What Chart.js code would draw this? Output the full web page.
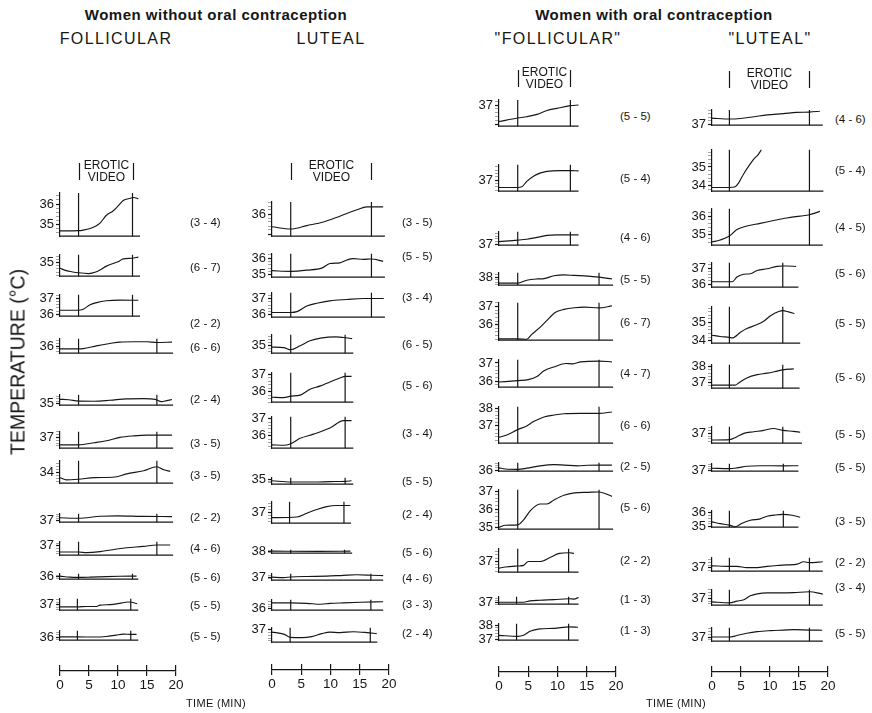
<!DOCTYPE html>
<html><head><meta charset="utf-8">
<script src="https://cdn.jsdelivr.net/npm/chart.js@4/dist/chart.umd.min.js"></script>
<style>
html,body{margin:0;padding:0;background:#fff;}
#wrap{position:relative;width:872px;height:713px;overflow:hidden;background:#fff;font-family:"Liberation Sans",Arial,sans-serif;color:#161616;-webkit-font-smoothing:antialiased;}
#wrap canvas{position:absolute;}
.t{position:absolute;white-space:nowrap;transform:translate(-50%,-50%);}
.lab{position:absolute;white-space:nowrap;font-size:11.5px;line-height:14px;}
</style></head><body><div id="wrap"></div>
<script>
// ================= DATA =================
const timeTickLabels = [0, 5, 10, 15, 20];

// ---- Women without oral contraception : FOLLICULAR ----
const noOcFollicularLabels = ['(3 - 4)','(6 - 7)','(2 - 2)','(6 - 6)','(2 - 4)','(3 - 5)','(3 - 5)','(2 - 2)','(4 - 6)','(5 - 6)','(5 - 5)','(5 - 5)'];
const noOcFollicularRanges = [[34.42,36.54],[34.13,35.51],[35.87,37.24],[35.49,36.55],[34.86,35.75],[36.23,37.4],[33.32,34.74],[36.86,37.67],[36.29,37.31],[35.71,36.38],[36.55,37.47],[35.71,36.57]];
const noOcFollicularTicks = [[35,36],[35],[36,37],[36],[35],[37],[34],[37],[37],[36],[37],[36]];
const noOcFollicularVideo = [[3.2,12.5],[3.2,12.5],[3.2,12.5],[3.2,16.7],[3.2,16.7],[3.2,16.7],[3.2,16.7],[3.2,16.7],[3.2,16.7],[3.2,12.5],[3.0,12.2],[3.0,12.2]];
const noOcFollicularEnd = [13.8,13.8,13.8,19.5,19.5,19.5,19.5,19.5,19.5,13.5,13.5,13.5];
const noOcFollicularTraces = [
 [[0,34.68],[3.2,34.69],[4,34.72],[5.2,34.8],[6.2,34.92],[6.9,35.06],[8,35.45],[9.2,35.67],[10.1,35.93],[10.9,36.17],[12.1,36.28],[12.7,36.32],[13.5,36.25]],
 [[0,34.64],[1.1,34.49],[2,34.42],[3.2,34.35],[4.9,34.3],[6.3,34.42],[7,34.55],[8,34.78],[9.5,35.0],[10.2,35.1],[10.9,35.25],[12.4,35.29],[13.5,35.36]],
 [[0,36.25],[3.2,36.25],[4,36.32],[5.2,36.6],[6.3,36.74],[8,36.86],[10.3,36.9],[13.5,36.89]],
 [[0,35.81],[3.2,35.81],[4,35.83],[6.3,36.03],[8.6,36.2],[10.3,36.31],[12.7,36.33],[15,36.33],[16.7,36.28],[19.3,36.31]],
 [[0,35.36],[1.5,35.33],[3.2,35.21],[5.9,35.2],[8.6,35.28],[11.5,35.4],[14.4,35.42],[16.4,35.36],[17.5,35.16],[18.4,35.25],[19.3,35.35]],
 [[0,36.47],[3.2,36.47],[5.9,36.62],[8,36.76],[10.3,37.0],[12.7,37.11],[15,37.16],[19.3,37.16]],
 [[0,33.67],[1.1,33.53],[3.2,33.57],[5.9,33.67],[9.5,33.71],[11.5,33.91],[14.4,34.11],[16.7,34.36],[17.9,34.17],[19,34.07]],
 [[0,37.29],[3.2,37.24],[6.9,37.43],[9.9,37.47],[14.1,37.42],[19.3,37.4]],
 [[0,36.53],[3.2,36.53],[4.6,36.49],[6.9,36.56],[9.5,36.74],[11.5,36.86],[14.4,36.96],[16.7,37.07],[19,37.07]],
 [[0,36.1],[1.7,35.96],[3.2,35.93],[5.2,35.96],[8,36.03],[10.3,36.07],[13.2,36.1]],
 [[0,36.82],[3,36.82],[4.6,36.85],[6.3,36.85],[6.9,36.96],[8.6,37.0],[10.3,37.1],[11.7,37.21],[12.3,37.19],[13.3,37.07]],
 [[0,36.01],[3,36.01],[5.9,36.0],[8,36.05],[9.7,36.18],[10.9,36.26],[12.3,36.24],[13.2,36.24]]
];

// ---- Women without oral contraception : LUTEAL ----
const noOcLutealLabels = ['(3 - 5)','(5 - 5)','(3 - 4)','(6 - 5)','(5 - 6)','(3 - 4)','(5 - 5)','(2 - 4)','(5 - 6)','(4 - 6)','(3 - 3)','(2 - 4)'];
const noOcLutealRanges = [[34.89,36.6],[34.86,36.26],[35.86,37.35],[34.5,35.74],[35.39,37.1],[35.29,37.1],[34.43,35.17],[36.29,37.68],[37.65,38.26],[36.65,37.37],[35.89,36.78],[36.11,37.14]];
const noOcLutealTicks = [[36],[35,36],[36,37],[35],[36,37],[36,37],[35],[37],[38],[37],[36],[37]];
const noOcLutealVideo = [[3.2,17.0],[3.2,17.0],[3.2,17.0],[3.2,12.5],[3.2,12.5],[3.2,12.5],[3.2,12.5],[3.0,12.3],[3.2,12.4],[3.2,16.9],[3.2,16.9],[3.1,16.8]];
const noOcLutealEnd = [19.3,19.3,19.3,13.9,13.9,13.9,13.9,13.5,13.7,19.0,19.0,18.0];
const noOcLutealTraces = [
 [[0,35.36],[3.2,35.25],[5.95,35.42],[8.8,35.6],[11.6,35.89],[14.5,36.21],[16.2,36.36],[17,36.36],[19,36.36]],
 [[0,35.25],[3.2,35.21],[5.95,35.28],[8.6,35.42],[9.9,35.68],[11.6,35.72],[12.8,35.89],[13.9,35.97],[15.6,35.93],[17,35.95],[19,35.81]],
 [[0,36.15],[3.2,36.15],[4.25,36.2],[5.95,36.54],[7.65,36.71],[9.9,36.86],[12.8,36.94],[15.6,37.0],[19.1,37.0]],
 [[0,34.91],[2,34.88],[3.2,34.73],[4.8,35.0],[6.5,35.34],[8.3,35.52],[11,35.6],[12.2,35.56],[13.7,35.48]],
 [[0,35.68],[2,35.66],[3.2,35.74],[4.8,35.8],[6.5,36.14],[8.3,36.34],[9.9,36.57],[11.6,36.8],[12.5,36.89],[13.6,36.89]],
 [[0,35.48],[2,35.46],[3.2,35.55],[4.8,35.86],[7.1,36.1],[9.9,36.45],[12.2,36.88],[13.6,36.88]],
 [[0,34.83],[3.2,34.69],[7.1,34.68],[9.9,34.73],[12.5,34.76],[13.6,34.83]],
 [[0,36.65],[4.25,36.69],[5.95,36.94],[7.65,37.18],[9.35,37.37],[11,37.44],[13.4,37.44]],
 [[0,38.01],[8,37.99],[13.4,38.01]],
 [[0,37.0],[2,36.94],[3.2,37.01],[5.95,37.07],[9.35,37.11],[12.2,37.2],[14.5,37.26],[17,37.21],[19,37.16]],
 [[0,36.52],[3.2,36.52],[5.95,36.48],[8.3,36.4],[9.9,36.47],[12.2,36.52],[15.1,36.57],[19,36.61]],
 [[0,36.83],[2,36.69],[3.1,36.46],[5.1,36.44],[6.8,36.51],[8.5,36.72],[9.9,36.83],[11.6,36.8],[13.9,36.86],[16.2,36.8],[17.9,36.72]]
];

// ---- Women with oral contraception : "FOLLICULAR" ----
const ocFollicularLabels = ['(5 - 5)','(5 - 4)','(4 - 6)','(5 - 5)','(6 - 7)','(4 - 7)','(6 - 6)','(2 - 5)','(5 - 6)','(2 - 2)','(1 - 3)','(1 - 3)'];
const ocFollicularRanges = [[35.91,37.26],[36.34,37.92],[36.91,37.94],[37.36,38.35],[35.15,37.2],[35.68,37.17],[36.03,38.07],[35.9,36.68],[34.9,37.07],[36.34,37.78],[36.79,37.57],[36.92,38.1]];
const ocFollicularTicks = [[37],[37],[37],[38],[36,37],[36,37],[37,38],[36],[35,36,37],[37],[37],[37,38]];
const ocFollicularVideo = [[3.2,12.2],[3.2,12.2],[3.2,12.2],[3.2,17.1],[3.2,17.1],[3.2,17.1],[3.2,17.1],[3.2,17.1],[3.2,17.1],[3.2,11.9],[3.0,11.9],[3.0,11.9]];
const ocFollicularEnd = [13.6,13.6,13.6,19.5,19.5,19.5,19.5,19.5,19.5,13.6,13.6,13.6];
const ocFollicularTraces = [
 [[0,36.15],[3.2,36.33],[4.75,36.4],[6.5,36.52],[8.2,36.72],[9.9,36.83],[12.2,36.97],[13.6,37.0]],
 [[0,36.56],[3.2,36.56],[3.9,36.6],[4.75,36.93],[5.9,37.24],[7,37.42],[8.2,37.53],[10.5,37.57],[12.2,37.57],[13.6,37.56]],
 [[0,37.19],[3.2,37.3],[4.75,37.37],[6.5,37.51],[8.2,37.66],[9.9,37.7],[13.6,37.7]],
 [[0,37.52],[3.2,37.52],[4.75,37.76],[6.5,37.86],[7.7,37.89],[9.4,38.11],[11.1,38.18],[12.9,38.14],[15.2,38.09],[17.1,38.0],[19.3,37.86]],
 [[0,35.22],[3.2,35.22],[4.75,35.2],[5.6,35.47],[7,35.85],[8.2,36.24],[9.6,36.67],[11.1,36.84],[12.9,36.93],[14.6,36.96],[17.1,36.92],[19.3,37.03]],
 [[0,35.96],[3.2,36.04],[5,36.09],[6.5,36.26],[7.7,36.58],[9.4,36.78],[11.4,36.97],[12.6,36.95],[14,37.06],[17.1,37.1],[19.3,37.06]],
 [[0,36.36],[1.1,36.46],[3.2,36.79],[4.75,37.0],[5.9,37.24],[7.7,37.5],[9.4,37.61],[11.1,37.68],[14,37.7],[17.1,37.7],[19.3,37.78]],
 [[0,36.21],[1.1,36.1],[3.2,36.07],[4.75,36.18],[7,36.4],[9.4,36.51],[11.1,36.47],[13.4,36.4],[15.2,36.45],[17.1,36.47],[19.3,36.47]],
 [[0,35.0],[1.1,35.12],[3.2,35.14],[4.2,35.41],[5.3,35.9],[7,36.29],[8.2,36.29],[9.4,36.51],[11.1,36.77],[12.9,36.9],[15.2,36.93],[17.1,36.95],[19.3,36.71]],
 [[0,36.59],[1.1,36.66],[3.2,36.72],[4.2,36.76],[5,37.0],[6.1,37.0],[7,37.0],[8.8,37.26],[10.3,37.5],[12,37.54],[12.8,37.5]],
 [[0,37.0],[4.2,37.0],[5.3,37.14],[7,37.21],[9.4,37.27],[12,37.36],[12.8,37.33],[13.6,37.5]],
 [[0,37.27],[3.2,37.19],[4.2,37.27],[5.3,37.56],[7,37.73],[9.4,37.77],[12,37.88],[13.5,37.85]]
];

// ---- Women with oral contraception : "LUTEAL" ----
const ocLutealLabels = ['(4 - 6)','(5 - 4)','(4 - 5)','(5 - 6)','(5 - 5)','(5 - 6)','(5 - 5)','(5 - 5)','(3 - 5)','(2 - 2)','(3 - 4)','(5 - 5)'];
const ocLutealRanges = [[36.94,37.82],[33.7,35.92],[34.44,36.39],[35.81,37.33],[33.86,35.87],[36.64,38.12],[36.29,37.47],[36.9,37.67],[34.97,36.11],[36.72,37.77],[36.5,37.6],[36.69,37.68]];
const ocLutealTicks = [[37],[34,35],[35,36],[36,37],[34,35],[37,38],[37],[37],[35,36],[37],[37],[37]];
const ocLutealVideo = [[3.0,16.8],[3.0,16.8],[3.0,16.8],[3.0,12.2],[3.0,12.2],[3.0,12.2],[3.0,12.2],[3.0,12.3],[3.0,12.3],[3.0,16.8],[3.0,16.8],[3.0,16.8]];
const ocLutealEnd = [19.1,19.2,19.1,14.9,15.2,15.1,15.5,14.9,14.9,19.1,19.1,19.1];
const ocLutealTraces = [
 [[0,37.35],[3,37.3],[4.9,37.33],[7.2,37.43],[9.5,37.54],[12.3,37.61],[14.6,37.68],[16.8,37.7],[18.6,37.75]],
 [[0,33.9],[3,33.9],[4,33.94],[4.6,34.15],[5.5,34.65],[6.3,35.03],[7.2,35.42],[8,35.68],[8.5,35.92]],
 [[0,34.61],[1.4,34.72],[3,34.93],[4.3,35.28],[6,35.47],[8.3,35.61],[10.6,35.76],[12.9,35.9],[15.2,36.0],[16.8,36.07],[18.6,36.25]],
 [[0,36.15],[3.5,36.15],[4.3,36.44],[5.5,36.62],[6.6,36.65],[7.8,36.85],[9.5,36.96],[11.2,37.11],[12.2,37.13],[12.9,37.13],[14.5,37.1]],
 [[0,34.3],[1.4,34.23],[3,34.18],[3.5,34.15],[4.9,34.46],[6,34.67],[7.8,34.89],[8.9,35.07],[10.1,35.38],[11.5,35.61],[12.2,35.66],[13.2,35.59],[14.2,35.49]],
 [[0,36.83],[4,36.83],[4.6,36.97],[6,37.29],[7.8,37.5],[9.5,37.59],[11.2,37.72],[12.2,37.8],[14.1,37.86]],
 [[0,36.52],[3,36.55],[4.3,36.76],[5.5,37.0],[7.2,37.11],[8.9,37.21],[10.6,37.35],[12.2,37.21],[14.1,37.14],[15.2,37.08]],
 [[0,37.21],[3,37.17],[4.3,37.24],[6,37.41],[8.3,37.47],[12.2,37.46],[14.9,37.47]],
 [[0,35.34],[1.4,35.22],[3,35.11],[4,35.0],[5.2,35.25],[6.6,35.45],[8.3,35.55],[9.5,35.73],[10.9,35.82],[12.2,35.86],[13.8,35.8],[15.2,35.66]],
 [[0,37.14],[3,37.1],[4.3,37.1],[6,37.0],[7.8,37.0],[9.5,37.1],[11.2,37.17],[12.9,37.21],[14.7,37.27],[15.8,37.46],[16.8,37.39],[19.1,37.46]],
 [[0,36.74],[3,36.67],[4.3,36.79],[5.5,36.89],[6.6,37.17],[7.8,37.31],[9.5,37.38],[11.8,37.38],[14.1,37.4],[16.8,37.46],[19.1,37.29]],
 [[0,37.0],[3,37.0],[4.3,37.11],[6,37.28],[7.8,37.4],[10.1,37.47],[12.4,37.51],[14.1,37.54],[16.8,37.51],[19,37.5]]
];

// ================= LAYOUT (page pixels) =================
const noOcFollicularLayout = {x0:60, x20:176, labelX:190, annTop:163, axisY:671,
  tops:[193,250,290,334,390,427,456,509,537,569,594,626],
  bottoms:[242,282,322,359,411,454,489,528,561,585,616,646],
  labelY:[222,267,323,347,399,443,475,517,548,577,605,636]};
const noOcLutealLayout = {x0:272, x20:389, labelX:402, annTop:163, axisY:670,
  tops:[202,249,288,330,368,412,473,497,545,569,595,623],
  bottoms:[242,283,323,359,408,454,490,529,559,586,616,648],
  labelY:[222,256,297,344,385,433,481,514,552,578,604,633]};
const ocFollicularLayout = {x0:499, x20:616, labelX:620, annTop:70, axisY:672,
  tops:[100,160,227,268,298,355,402,458,485,544,592,619],
  bottoms:[132,197,251,291,346,393,449,477,535,578,610,646],
  labelY:[116,178,237,279,322,373,425,466,507,560,599,630]};
const ocLutealLayout = {x0:712, x20:828, labelX:835, annTop:71, axisY:672,
  tops:[110,145,204,258,302,360,422,459,506,553,585,623],
  bottoms:[131,197,251,293,349,394,449,477,533,577,611,647],
  labelY:[119,170,227,273,323,377,434,467,521,562,587,633]};

// ================= RENDER =================
const AXIS_W = 34;
const INK = '#161616';
const FONT = '"Liberation Sans", Arial, sans-serif';
const wrap = document.getElementById('wrap');
const isInt = v => Math.abs(v - Math.round(v)) < 1e-6;

const videoPlugin = {
  id: 'videoLabel',
  afterDraw(chart, args, opts) {
    if (!opts || opts.start == null) return;
    const {ctx, chartArea} = chart;
    const x = chart.scales.x;
    const y0 = chartArea.top - opts.offset;
    const xa = Math.round(x.getPixelForValue(opts.start)) + 0.5;
    const xb = Math.round(x.getPixelForValue(opts.end)) + 0.5;
    ctx.save();
    ctx.strokeStyle = INK; ctx.lineWidth = 1.2;
    ctx.beginPath();
    ctx.moveTo(xa, y0); ctx.lineTo(xa, y0 + opts.h);
    ctx.moveTo(xb, y0); ctx.lineTo(xb, y0 + opts.h);
    ctx.stroke();
    ctx.fillStyle = INK;
    ctx.font = '12px ' + FONT;
    ctx.textAlign = 'center'; ctx.textBaseline = 'middle';
    const xm = (xa + xb) / 2;
    ctx.fillText('EROTIC', xm, y0 + 3);
    ctx.fillText('VIDEO', xm, y0 + 15);
    ctx.restore();
  }
};

function addCanvas(left, top, w, h) {
  const c = document.createElement('canvas');
  c.width = w; c.height = h;
  c.style.left = left + 'px'; c.style.top = top + 'px';
  c.style.width = w + 'px'; c.style.height = h + 'px';
  wrap.appendChild(c);
  return c;
}

function minorTicks(min, max) {
  const out = [];
  for (let k = Math.ceil(min * 5 - 1e-9); k <= Math.floor(max * 5 + 1e-9); k++) out.push(Math.round(k * 20) / 100);
  return out;
}

function lineSet(points, width) {
  return {data: points.map(p => ({x: p[0], y: p[1]})), borderColor: INK, borderWidth: width,
          pointRadius: 0, fill: false, cubicInterpolationMode: 'monotone', clip: 8};
}

function panel(col, i) {
  const L = col.layout;
  const [ymin, ymax] = col.ranges[i];
  const top = L.tops[i], bottom = L.bottoms[i];
  const first = i === 0;
  const padTop = first ? (top - L.annTop) + 4 : 5;
  const padBottom = 4, padRight = 4;
  const w = AXIS_W + (L.x20 - L.x0) + padRight;
  const h = padTop + (bottom - top) + padBottom;
  const c = addCanvas(L.x0 - AXIS_W, top - padTop, w, h);
  const v = col.video[i];
  const labs = col.ticks[i];
  new Chart(c, {
    type: 'line',
    data: {datasets: [
      lineSet(col.traces[i], 1.15),
      lineSet([[0, ymin], [col.end[i], ymin]], 1.3),
      lineSet([[v[0], ymin], [v[0], ymax]], 1.2),
      lineSet([[v[1], ymin], [v[1], ymax]], 1.2)
    ]},
    options: {
      responsive: false, animation: false, devicePixelRatio: 1, events: [],
      layout: {padding: {top: padTop, bottom: padBottom, left: 0, right: padRight}},
      plugins: {legend: {display: false}, tooltip: {enabled: false},
                videoLabel: first ? {start: v[0], end: v[1], offset: top - L.annTop, h: 17} : {}},
      scales: {
        x: {type: 'linear', min: 0, max: 20, display: false},
        y: {type: 'linear', min: ymin, max: ymax,
            afterBuildTicks: s => { s.ticks = minorTicks(ymin, ymax).map(t => ({value: t})); },
            afterFit: s => { s.width = AXIS_W; },
            ticks: {autoSkip: false, padding: 2, color: INK, font: {family: FONT, size: 13},
                    callback: t => (isInt(t) && labs.includes(Math.round(t))) ? String(Math.round(t)) : ''},
            grid: {display: true, drawOnChartArea: false, drawTicks: true, tickLength: 4,
                   tickColor: ctx => isInt(ctx.tick.value) ? INK : '#8a8a8a',
                   tickWidth: ctx => isInt(ctx.tick.value) ? 1.2 : 0.8},
            border: {display: true, color: INK, width: 1.2}}
      }
    },
    plugins: first ? [videoPlugin] : []
  });
}

function timeAxis(col) {
  const L = col.layout;
  const padX = 12, up = 6, below = 24;
  const c = addCanvas(L.x0 - padX, L.axisY - up, (L.x20 - L.x0) + 2 * padX, up + below);
  new Chart(c, {
    type: 'line',
    data: {datasets: [{data: []}]},
    options: {
      responsive: false, animation: false, devicePixelRatio: 1, events: [],
      layout: {padding: {top: 0, bottom: 0, left: padX, right: padX}},
      plugins: {legend: {display: false}, tooltip: {enabled: false}},
      scales: {
        x: {type: 'linear', min: 0, max: 20, position: 'bottom',
            afterBuildTicks: s => { s.ticks = timeTickLabels.map(t => ({value: t})); },
            afterFit: s => { s.height = below; },
            ticks: {autoSkip: false, maxRotation: 0, padding: 1, color: INK, font: {family: FONT, size: 13.5}},
            grid: {display: true, drawOnChartArea: true, drawTicks: true, tickLength: 5,
                   color: INK, tickColor: INK, lineWidth: 1.2, tickWidth: 1.2},
            border: {display: true, color: INK, width: 1.2}},
        y: {display: false, min: 0, max: 1}
      }
    }
  });
}

function addText(txt, cx, cy, css) {
  const d = document.createElement('div');
  d.className = 't';
  d.textContent = txt;
  d.style.cssText += css;
  d.style.left = cx + 'px'; d.style.top = cy + 'px';
  wrap.appendChild(d);
  return d;
}

const columns = [
  {title: 'FOLLICULAR', titleX: 116, layout: noOcFollicularLayout, labels: noOcFollicularLabels, ranges: noOcFollicularRanges, ticks: noOcFollicularTicks, video: noOcFollicularVideo, end: noOcFollicularEnd, traces: noOcFollicularTraces},
  {title: 'LUTEAL', titleX: 331, layout: noOcLutealLayout, labels: noOcLutealLabels, ranges: noOcLutealRanges, ticks: noOcLutealTicks, video: noOcLutealVideo, end: noOcLutealEnd, traces: noOcLutealTraces},
  {title: '"FOLLICULAR"', titleX: 558, layout: ocFollicularLayout, labels: ocFollicularLabels, ranges: ocFollicularRanges, ticks: ocFollicularTicks, video: ocFollicularVideo, end: ocFollicularEnd, traces: ocFollicularTraces},
  {title: '"LUTEAL"', titleX: 770, layout: ocLutealLayout, labels: ocLutealLabels, ranges: ocLutealRanges, ticks: ocLutealTicks, video: ocLutealVideo, end: ocLutealEnd, traces: ocLutealTraces}
];

columns.forEach(col => {
  col.traces.forEach((_, i) => panel(col, i));
  timeAxis(col);
  col.labels.forEach((lab, i) => {
    const d = document.createElement('div');
    d.className = 'lab';
    d.textContent = lab;
    d.style.left = col.layout.labelX + 'px';
    d.style.top = (col.layout.labelY[i] - 7) + 'px';
    wrap.appendChild(d);
  });
  addText(col.title, col.titleX, 38.5, 'font-size:16px;letter-spacing:1.4px;');
});

addText('Women without oral contraception', 216, 14, 'font-size:15px;font-weight:bold;letter-spacing:0.5px;');
addText('Women with oral contraception', 654, 14, 'font-size:15px;font-weight:bold;letter-spacing:0.5px;');
addText('TEMPERATURE (°C)', 17.5, 362, 'font-size:19.5px;transform:translate(-50%,-50%) rotate(-90deg);');
addText('TIME (MIN)', 216, 703, 'font-size:11px;letter-spacing:0.3px;');
addText('TIME (MIN)', 676, 703, 'font-size:11px;letter-spacing:0.3px;');
</script>
</body></html>
